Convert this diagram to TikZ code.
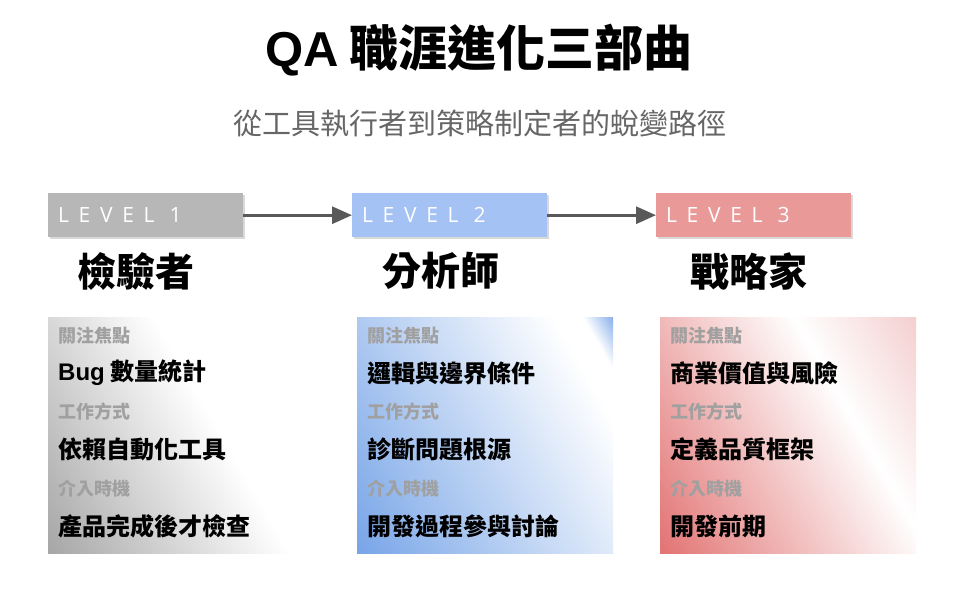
\documentclass[tikz,border=0pt]{standalone}
\usepackage{fontspec}
\setmainfont{Noto Sans CJK TC}
\newfontfamily\latinfont{Liberation Sans}
\newfontfamily\levelfont[LetterSpace=46]{Open Sans}
\usepackage{tikz}
\usetikzlibrary{arrows.meta,positioning,shadows}

\definecolor{lvgray}{HTML}{B7B7B7}
\definecolor{lvblue}{HTML}{A4C2F4}
\definecolor{lvred}{HTML}{EA9999}
\definecolor{arrowgray}{HTML}{595959}
\definecolor{labelgray}{HTML}{A0A0A0}
\definecolor{subgray}{HTML}{666666}
\definecolor{cgA}{HTML}{9E9E9E}
\definecolor{cbA}{HTML}{6F9FE6}
\definecolor{cbB}{HTML}{8FB4EC}
\definecolor{crA}{HTML}{E06868}
\definecolor{crB}{HTML}{F2C6C6}

\pgfdeclarehorizontalshading{graycard}{100bp}{color(0bp)=(cgA); color(12bp)=(cgA); color(58bp)=(white); color(100bp)=(white)}
\pgfdeclarehorizontalshading{bluecard}{100bp}{color(0bp)=(cbA); color(12bp)=(cbA); color(74bp)=(white); color(79bp)=(white); color(84bp)=(cbB); color(100bp)=(cbB)}
\pgfdeclarehorizontalshading{redcard}{100bp}{color(0bp)=(crA); color(12bp)=(crA); color(63bp)=(white); color(88bp)=(crB); color(100bp)=(crB)}

\tikzset{
    level/.style = {
        rectangle, minimum width=195bp, minimum height=44bp,
        inner sep=0pt, anchor=north west,
        drop shadow={shadow xshift=1.5bp, shadow yshift=-1.5bp, opacity=0.3}
    },
    leveltext/.style = {anchor=west, text=white, inner sep=0pt,
        font=\levelfont\fontsize{21bp}{24bp}\selectfont},
    role/.style  = {font=\bfseries\fontsize{39bp}{45bp}\selectfont},
    card/.style  = {rectangle, minimum width=256bp, minimum height=236bp,
        inner sep=0pt, anchor=north west, shading angle=30},
    label/.style = {anchor=west, inner sep=0pt, text=labelgray,
        font=\bfseries\fontsize{18bp}{21bp}\selectfont},
    value/.style = {anchor=west, inner sep=0pt,
        font=\bfseries\fontsize{24bp}{28bp}\selectfont},
    line/.style  = {draw=arrowgray, line width=3bp,
        -{Triangle[length=20bp,width=17bp]}}
}

\begin{document}
\begin{tikzpicture}[x=1bp, y=-1bp]
  \useasboundingbox (0,0) rectangle (960,600);

  \node (title) at (479,50)
    {\bfseries\fontsize{49bp}{56bp}\selectfont{\latinfont QA} 職涯進化三部曲};
  \node [text=subgray] (sub) at (480,123)
    {\fontsize{29bp}{33bp}\selectfont 從工具執行者到策略制定者的蛻變路徑};

  \node [level, fill=lvgray] (lv1) at (48,193) {};
  \node [level, fill=lvblue] (lv2) at (352,193) {};
  \node [level, fill=lvred]  (lv3) at (656,193) {};
  \node [leveltext] (lv1t) at (58,215) {LEVEL 1};
  \node [leveltext] (lv2t) at (362,215) {LEVEL 2};
  \node [leveltext] (lv3t) at (666,215) {LEVEL 3};

  \path [line] (lv1) -- (lv2);
  \path [line] (lv2) -- (lv3);

  \node [role] (r1) at (136,271) {檢驗者};
  \node [role] (r2) at (441,271) {分析師};
  \node [role] (r3) at (749,271) {戰略家};

  \node [card, shading=graycard] (card1) at (48,317) {};
  \node [card, shading=bluecard] (card2) at (357,317) {};
  \node [card, shading=redcard]  (card3) at (660,317) {};

  \node [label] (c1a) at (58,336) {關注焦點};
  \node [value] (c1b) at (58,373) {{\latinfont Bug} 數量統計};
  \node [label] (c1c) at (58,412) {工作方式};
  \node [value] (c1d) at (58,449) {依賴自動化工具};
  \node [label] (c1e) at (58,489) {介入時機};
  \node [value] (c1f) at (58,526) {產品完成後才檢查};

  \node [label] (c2a) at (367,336) {關注焦點};
  \node [value] (c2b) at (367,373) {邏輯與邊界條件};
  \node [label] (c2c) at (367,412) {工作方式};
  \node [value] (c2d) at (367,449) {診斷問題根源};
  \node [label] (c2e) at (367,489) {介入時機};
  \node [value] (c2f) at (367,526) {開發過程參與討論};

  \node [label] (c3a) at (670,336) {關注焦點};
  \node [value] (c3b) at (670,373) {商業價值與風險};
  \node [label] (c3c) at (670,412) {工作方式};
  \node [value] (c3d) at (670,449) {定義品質框架};
  \node [label] (c3e) at (670,489) {介入時機};
  \node [value] (c3f) at (670,526) {開發前期};
\end{tikzpicture}
\end{document}
